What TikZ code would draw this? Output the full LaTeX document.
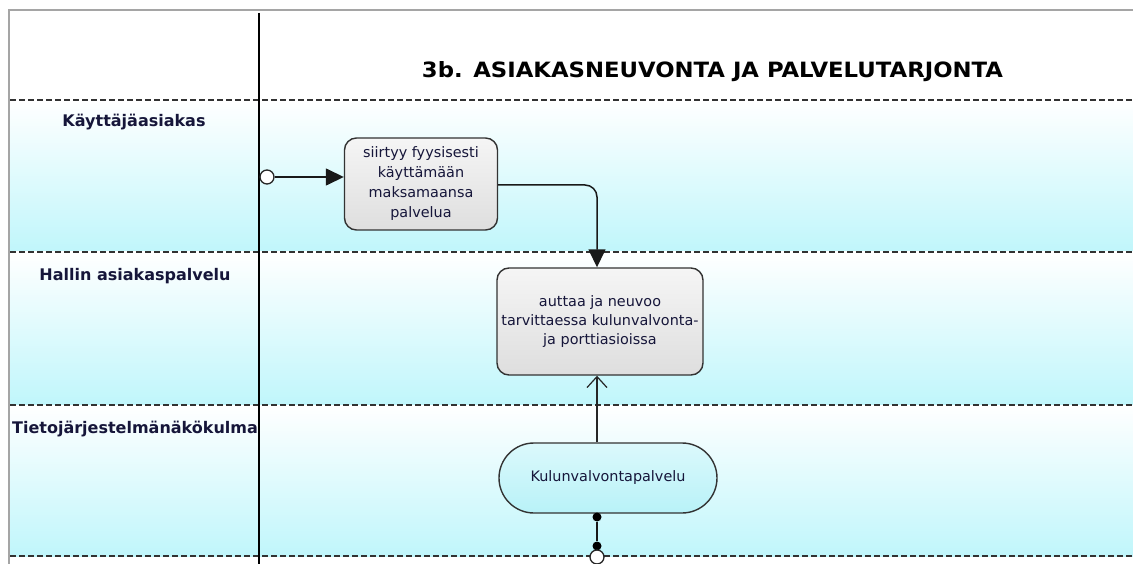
\documentclass[tikz,border=0pt]{standalone}
\usepackage{fontspec}
\usepackage{graphicx}
\setmainfont{DejaVu Sans}
\usetikzlibrary{arrows.meta,shapes.misc}

\definecolor{lanecyan}{RGB}{192,246,251}
\definecolor{framegray}{RGB}{165,165,165}
\definecolor{dashgray}{RGB}{50,50,50}
\definecolor{inktext}{RGB}{22,22,58}
\definecolor{taskgray}{RGB}{222,222,222}
\definecolor{servcyan}{RGB}{184,242,248}

\tikzset{
  lanebg/.style={top color=white, bottom color=lanecyan},
  laneline/.style={draw=dashgray, line width=1.7pt, dash pattern=on 6pt off 3pt},
  lanelabel/.style={anchor=base, font=\fontsize{16}{19}\selectfont\bfseries, text=inktext, inner sep=0pt},
  taskbox/.style={rectangle, rounded corners=12pt, draw=black!80, line width=1.4pt,
    top color=white!70!taskgray, bottom color=taskgray, text=inktext, align=center,
    font=\fontsize{14.4}{20}\selectfont, inner sep=2pt},
  servbox/.style={rounded rectangle, draw=black!80, line width=1.4pt,
    top color=white!50!servcyan, bottom color=servcyan, text=inktext,
    font=\fontsize{14.4}{18}\selectfont, inner sep=2pt},
  flow/.style={draw=black!90, line width=1.5pt},
  enddot/.style={circle, fill=black, minimum size=9pt, inner sep=0pt},
  startcirc/.style={circle, draw=black!85, line width=1.3pt, fill=white, minimum size=14pt, inner sep=0pt}
}

\begin{document}
\begin{tikzpicture}[x=1pt,y=-1pt]
\useasboundingbox (0,0) rectangle (1133,564);

% swimlane backgrounds
\shade[lanebg] (10,100) rectangle (1133,252);
\shade[lanebg] (10,252) rectangle (1133,405);
\shade[lanebg] (10,405) rectangle (1133,556);

% outer frame
\draw[framegray, line width=1.6pt] (9,564) -- (9,10) -- (1133,10);

% lane separators
\draw[laneline] (10,100) -- (1133,100);
\draw[laneline] (10,252) -- (1133,252);
\draw[laneline] (10,405) -- (1133,405);
\draw[laneline] (10,556) -- (1133,556);

% header column divider
\draw[black, line width=1.6pt] (259,13) -- (259,564);

% title
\node[anchor=base, inner sep=0pt, text=black] (title) at (712.5,78)
  {\resizebox{581pt}{16pt}{\bfseries 3b. ASIAKASNEUVONTA JA PALVELUTARJONTA}};

% lane labels
\node[lanelabel] (lane1) at (134,127) {Käyttäjäasiakas};
\node[lanelabel] (lane2) at (135,280) {Hallin asiakaspalvelu};
\node[lanelabel] (lane3) at (135,433) {Tietojärjestelmänäkökulma};

% activities
\node[taskbox, minimum width=153pt, minimum height=92pt] (n1) at (421,184)
  {siirtyy fyysisesti\\käyttämään\\maksamaansa\\palvelua};
\node[taskbox, minimum width=206pt, minimum height=107pt, font=\fontsize{14.4}{19}\selectfont] (n2) at (600,321.5)
  {auttaa ja neuvoo\\tarvittaessa kulunvalvonta-\\ja porttiasioissa};
\node[servbox, minimum width=222pt, minimum height=70pt] (n3) at (608,478)
  {Kulunvalvontapalvelu};

% start event
\node[startcirc] (start) at (267,177) {};

% flows
\draw[flow, -{Triangle[length=18pt,width=17pt]}] (start.east) -- (start.east -| n1.west);
\draw[flow, rounded corners=12pt, -{Triangle[length=18pt,width=17pt]}]
  ([yshift=-1pt]n1.east) -| ([xshift=-3pt]n2.north);
\draw[draw=black!85, line width=1.2pt, -{Straight Barb[length=11pt,width=20pt,line width=1.2pt]}]
  ([xshift=-11pt]n3.north) -- ([xshift=-11pt]n3.north |- n2.south);

% connector leaving the service
\node[enddot] (d1) at (597,517) {};
\node[enddot] (d2) at (597,546) {};
\node[startcirc] (endc) at (597,557) {};
\draw[flow] (d1) -- (d2);
\end{tikzpicture}
\end{document}
